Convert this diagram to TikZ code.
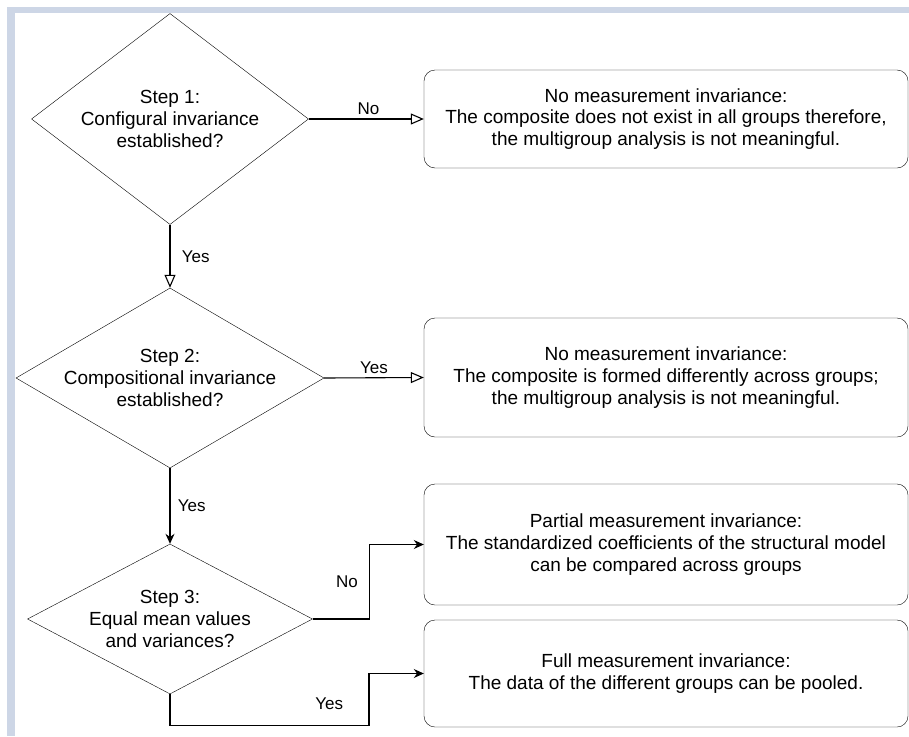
\documentclass[tikz,border=0pt]{standalone}
\usepackage{fontspec}
\setmainfont{Liberation Sans}
\usetikzlibrary{arrows.meta,shapes.geometric,positioning,calc}
\definecolor{bandblue}{RGB}{205,214,230}
\begin{document}
\begin{tikzpicture}[
    x=1pt, y=-1pt,
    decision/.style={draw, diamond, inner xsep=-60pt, inner ysep=-30pt, align=center, font=\fontsize{19}{21.7}\selectfont},
    outcome/.style={draw, rounded corners=11pt, minimum width=484pt, inner sep=0pt, align=center, font=\fontsize{19}{21.7}\selectfont},
    lbl/.style={font=\fontsize{17}{19}\selectfont},
    arr/.style={-{Stealth[length=10pt, width=9pt]}, line width=1.1pt},
    openarr/.style={-{Triangle[open, length=13pt, width=11pt]}, line width=1.1pt}
]
\useasboundingbox (0,0) rectangle (909,736);
% page border
\fill[bandblue] (7,7) rectangle (909,13);
\fill[bandblue] (7,7) rectangle (15,736);

\node[decision, minimum width=277pt, minimum height=211pt] (d1) at (170,119) {Step 1:\\Configural invariance\\established?};
\node[decision, minimum width=308pt, minimum height=180pt] (d2) at (170,378) {Step 2:\\Compositional invariance\\established?};
\node[decision, minimum width=285pt, minimum height=150pt] (d3) at (170,619) {Step 3:\\Equal mean values\\and variances?};

\node[outcome, minimum height=98pt] (b1) at (666,119) {No measurement invariance:\\The composite does not exist in all groups therefore,\\the multigroup analysis is not meaningful.};
\node[outcome, minimum height=119pt] (b2) at (666,377.5) {No measurement invariance:\\The composite is formed differently across groups;\\the multigroup analysis is not meaningful.};
\node[outcome, minimum height=121pt] (b3) at (666,544.5) {Partial measurement invariance:\\The standardized coefficients of the structural model\\can be compared across groups};
\node[outcome, minimum height=107pt] (b4) at (666,673.5) {Full measurement invariance:\\The data of the different groups can be pooled.};

\draw[openarr] (d1.east) -- node[lbl, above, pos=0.52] {No} (b1.west);
\draw[openarr] (d1.south) -- node[lbl, right=8pt, pos=0.5] {Yes} (d2.north);
\draw[openarr] (d2.east) -- node[lbl, above, pos=0.5] {Yes} (b2.west);
\draw[arr] (d2.south) -- node[lbl, right=4pt, pos=0.5] {Yes} (d3.north);
\draw[arr] (d3.east) -- ++(57,0) |- node[lbl, left=8pt, pos=0.25] {No} (b3.west);
\draw[arr] (d3.south) -- ++(0,31) -- ++(199,0) |- node[lbl, left=22pt, pos=0.21] {Yes} (b4.west);
\end{tikzpicture}
\end{document}
